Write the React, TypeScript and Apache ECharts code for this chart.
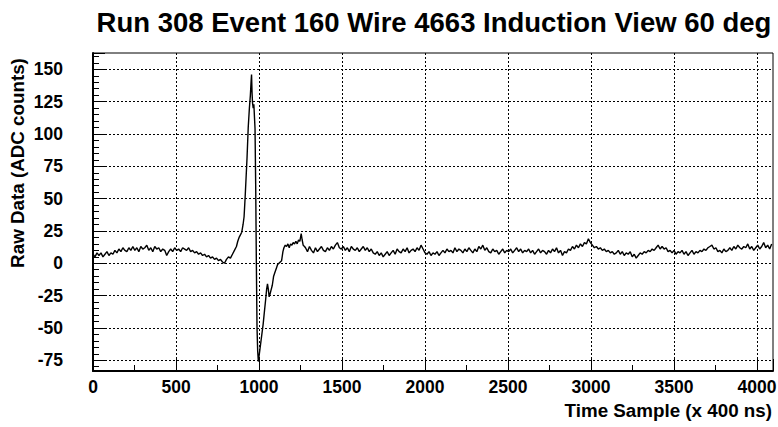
import React, { useEffect, useRef } from "react";
import * as echarts from "echarts";

// ---- data (ADC counts) ----
const titleText = "Run 308 Event 160 Wire 4663 Induction View 60 deg";
const xTitle = "Time Sample (x 400 ns)";
const yTitle = "Raw Data (ADC counts)";

// baseline before the pulse: samples every 12 ticks starting at 0
const preStart = 0;
const preStep = 12;
const preValues = [
  7, 5, 8, 6, 8, 5, 7, 9, 6, 8,
  7, 10, 8, 11, 9, 12, 10, 9, 12, 10,
  13, 10, 12, 9, 13, 11, 12, 14, 10, 12,
  9, 13, 11, 12, 9, 11, 10, 6, 9, 11,
  9, 12, 10, 11, 9, 12, 11, 10, 12, 9,
  10, 8, 9, 7, 8, 6, 7, 5, 6, 4,
  5, 3, 4, 2, 3, 1, 0, 3, 5, 4,
  7, 10, 13,
];

// the bipolar pulse (time sample, ADC)
const pulseTimes = [
  872, 880, 888, 896, 904, 910, 916, 922, 928, 935, 942, 948, 952, 955, 958,
  961, 965, 969, 973, 976, 980, 984, 988, 992, 996, 1000, 1006, 1012, 1018,
  1025, 1032, 1040, 1046, 1051, 1056, 1061, 1066, 1072, 1080, 1088, 1096,
  1104, 1112, 1120, 1128, 1136, 1144, 1150, 1158, 1166, 1174, 1182, 1190,
  1198, 1206, 1214, 1222, 1230, 1238, 1246, 1254, 1260, 1266, 1274,
];
const pulseValues = [
  17, 20, 22, 24, 30, 36, 50, 66, 82, 105, 120, 130, 140, 146, 132,
  124, 120, 123, 112, 104, 60, 0, -50, -68, -76, -72, -66, -60, -54,
  -47, -38, -28, -20, -16, -20, -26, -24, -21, -17, -10, -7,
  -4, -1, 0, 1, 2, 9, 12, 14, 13, 15, 12, 15,
  14, 16, 15, 17, 15, 18, 17, 23, 18, 14, 13,
];

// baseline after the pulse: samples every 12 ticks starting at 1280
const postStart = 1280;
const postStep = 12;
const postValues = [
  12, 9, 13, 10, 8, 12, 9, 11, 13, 10,
  9, 12, 10, 13, 11, 14, 16, 12, 11, 13,
  10, 12, 9, 13, 11, 10, 12, 9, 11, 13,
  10, 12, 9, 11, 8, 7, 9, 6, 8, 5,
  7, 9, 6, 8, 10, 7, 11, 9, 8, 11,
  9, 12, 8, 10, 11, 9, 12, 10, 14, 11,
  8, 7, 9, 6, 8, 7, 9, 6, 8, 10,
  8, 11, 9, 10, 8, 12, 9, 11, 10, 8,
  11, 9, 12, 10, 8, 11, 9, 13, 11, 14,
  10, 12, 9, 8, 11, 9, 10, 7, 9, 11,
  8, 10, 9, 11, 8, 10, 12, 9, 11, 8,
  10, 9, 11, 8, 10, 7, 9, 11, 8, 10,
  9, 7, 10, 8, 11, 9, 12, 8, 10, 6,
  9, 8, 11, 10, 13, 11, 14, 12, 15, 13,
  16, 15, 19, 16, 14, 12, 13, 11, 12, 10,
  11, 9, 10, 8, 9, 7, 8, 10, 7, 9,
  6, 8, 7, 9, 5, 7, 4, 6, 8, 7,
  9, 8, 10, 9, 11, 10, 12, 14, 11, 13,
  11, 12, 9, 10, 8, 10, 7, 9, 8, 10,
  7, 9, 6, 8, 10, 7, 9, 8, 10, 9,
  11, 10, 12, 13, 14, 11, 12, 9, 10, 8,
  11, 9, 10, 12, 10, 13, 11, 14, 12, 11,
  13, 12, 15, 11, 13, 10, 12, 14, 11, 13,
  16, 12, 14, 11, 15,
];

const xMin = 0;
const xMax = 4096;
const xStep = 500;
const yMin = -83.3;
const yMax = 162.6;
const yStep = 25;

const FONT = "'Liberation Sans', Arial, Helvetica, sans-serif";

export default function App() {
  const ref = useRef<HTMLDivElement>(null);

  useEffect(() => {
    if (!ref.current) return;
    const chart = echarts.init(ref.current, undefined, { renderer: "svg" });

    const data: number[][] = [];
    preValues.forEach((v, i) => data.push([preStart + i * preStep, v]));
    pulseTimes.forEach((t, i) => data.push([t, pulseValues[i]]));
    postValues.forEach((v, i) => data.push([postStart + i * postStep, v]));

    const multipleOf = (v: number, s: number) =>
      Math.abs(v / s - Math.round(v / s)) < 1e-6;

    chart.setOption({
      animation: false,
      backgroundColor: "#fff",
      grid: {
        left: 93,
        right: 5,
        top: 53,
        bottom: 56,
        containLabel: false,
        outerBoundsMode: "none",
        show: true,
        borderColor: "#000",
        borderWidth: 1,
        backgroundColor: "transparent",
      },
      xAxis: {
        type: "value",
        min: xMin,
        max: xMax,
        minInterval: xStep,
        maxInterval: xStep,
        axisLine: { show: true, onZero: false, lineStyle: { color: "#000", width: 2 } },
        axisTick: { show: true, inside: true, length: 12, lineStyle: { color: "#000", width: 1 } },
        minorTick: { show: true, splitNumber: 2, length: 6, lineStyle: { color: "#000", width: 1 } },
        splitLine: {
          show: true,
          showMinLine: false,
          showMaxLine: false,
          lineStyle: { color: "#000", width: 1, type: [2, 2] },
        },
        axisLabel: {
          margin: 7,
          color: "#000",
          fontFamily: FONT,
          fontWeight: "bold",
          fontSize: 17.5,
          formatter: (v: number) => (multipleOf(v, xStep) ? String(v) : ""),
        },
      },
      yAxis: {
        type: "value",
        min: yMin,
        max: yMax,
        minInterval: yStep,
        maxInterval: yStep,
        axisLine: { show: true, onZero: false, lineStyle: { color: "#000", width: 2 } },
        axisTick: { show: true, inside: true, length: 12, lineStyle: { color: "#000", width: 1 } },
        minorTick: { show: true, splitNumber: 5, length: 6, lineStyle: { color: "#000", width: 1 } },
        splitLine: {
          show: true,
          showMinLine: false,
          showMaxLine: false,
          lineStyle: { color: "#000", width: 1, type: [2, 2] },
        },
        axisLabel: {
          margin: 30,
          color: "#000",
          fontFamily: FONT,
          fontWeight: "bold",
          fontSize: 17.5,
          formatter: (v: number) => (multipleOf(v, yStep) ? String(Math.round(v)) : ""),
        },
      },
      series: [
        {
          type: "line",
          data,
          showSymbol: false,
          symbol: "none",
          lineStyle: { color: "#000", width: 1.4 },
          clip: true,
        },
      ],
      graphic: [
        {
          type: "text",
          x: 434,
          y: 8,
          style: {
            text: titleText,
            fill: "#000",
            font: `bold 27.5px ${FONT}`,
            textAlign: "center",
            textVerticalAlign: "top",
          },
        },
        {
          type: "text",
          x: 772,
          y: 401,
          style: {
            text: xTitle,
            fill: "#000",
            font: `bold 18.8px ${FONT}`,
            textAlign: "right",
            textVerticalAlign: "top",
          },
        },
        {
          type: "text",
          x: 17,
          y: 163,
          rotation: Math.PI / 2,
          style: {
            text: yTitle,
            fill: "#000",
            font: `bold 18.8px ${FONT}`,
            textAlign: "center",
            textVerticalAlign: "middle",
          },
        },
      ],
    });

    return () => chart.dispose();
  }, []);

  return (
    <div
      ref={ref}
      style={{ position: "fixed", left: 0, top: 0, width: 778, height: 427 }}
    />
  );
}
